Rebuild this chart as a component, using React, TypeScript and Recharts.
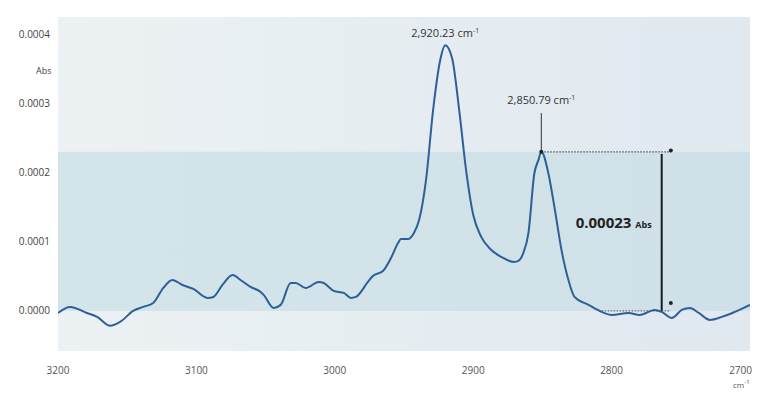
import React from "react";
import {
  LineChart,
  Line,
  XAxis,
  YAxis,
  ReferenceArea,
  ReferenceLine,
  ReferenceDot,
} from "recharts";

// wavenumber (cm-1)
const wavenumbers = [
  3200, 3191.3, 3179, 3171.7, 3162.3, 3155.1, 3145.7, 3138.4, 3131.2, 3123.9,
  3117.4, 3110.1, 3102.2, 3092, 3087.7, 3081.2, 3073.9, 3068.1, 3060.9, 3053.6,
  3051.4, 3044.2, 3039.1, 3031.9, 3028.3, 3021, 3011.6, 3008, 3000.7, 2993.5,
  2988.4, 2984.8, 2976.1, 2972.5, 2965.2, 2959.4, 2954.3, 2952.2, 2947.1, 2942.8,
  2939.1, 2934.1, 2929, 2923.9, 2920.23, 2915.2, 2910.1, 2905.1, 2900, 2894.2,
  2886.9, 2879.7, 2870.3, 2867.4, 2863.8, 2860.1, 2855.8, 2852.9, 2850.79, 2845.7,
  2841.3, 2836.2, 2831.2, 2826.8, 2816.7, 2807.2, 2800, 2787.7, 2779.7, 2768.8,
  2763.8, 2756.5, 2749.3, 2743.5, 2737, 2729, 2720.3, 2710.9, 2700,
];

// absorbance (Abs)
const absorbance = [
  -0.000003, 0.0000058, -0.000003, -0.0000087, -0.0000216, -0.0000159, 0, 0.0000058, 0.0000115, 0.0000332,
  0.0000447, 0.0000375, 0.0000317, 0.0000188, 0.0000202, 0.0000375, 0.0000519, 0.0000447, 0.0000346, 0.0000274,
  0.0000231, 0.0000043, 0.0000087, 0.0000404, 0.0000404, 0.0000332, 0.0000418, 0.0000404, 0.0000289, 0.000026,
  0.0000188, 0.0000202, 0.0000418, 0.0000505, 0.0000577, 0.0000765, 0.0000981, 0.0001039, 0.0001039, 0.0001126,
  0.0001313, 0.000189, 0.00029, 0.000362, 0.000384, 0.000365, 0.00029, 0.000203, 0.000139, 0.000107,
  0.000088, 0.000078, 0.0000707, 0.0000722, 0.0000837, 0.0001126, 0.000199, 0.000218, 0.00023, 0.000199,
  0.00015, 0.000088, 0.0000447, 0.0000202, 0.0000087, -0.0000014, -0.0000058, -0.000003, -0.0000058, 0.0000014,
  -0.0000014, -0.0000101, 0.0000014, 0.0000043, -0.000003, -0.000013, -0.0000087, -0.0000014, 0.0000087,
];

const xTicks = [3200, 3100, 3000, 2900, 2800, 2700];
const yTicks = [0, 0.0001, 0.0002, 0.0003, 0.0004];

// annotations
const peak1 = { wn: 2920.23, abs: 0.000384, label: "2,920.23" };
const peak2 = { wn: 2850.79, abs: 0.00023, label: "2,850.79" };
const bandTop = 0.00023;
const measureX = 2763.8;
const measureEndX = 2757.2;
const baselineStartX = 2807.2;
const peak2LabelTop = 0.000286;

const data = wavenumbers.map((wn, i) => ({ wn, abs: absorbance[i] }));

const FONT = "'Open Sans', 'Noto Sans', sans-serif";

const XTick = (props: any) => {
  const { x, y, payload } = props;
  const last = payload.value === 2700;
  return (
    <text
      x={last ? x + 2 : x}
      y={y + 15}
      textAnchor={last ? "end" : "middle"}
      fontSize={10}
      fontFamily={FONT}
      fill="#555"
    >
      {payload.value}
    </text>
  );
};

const YTick = (props: any) => {
  const { x, y, payload } = props;
  return (
    <text x={x} y={y} dy={3.5} textAnchor="end" fontSize={10} fontFamily={FONT} fill="#444">
      {Number(payload.value).toFixed(4)}
    </text>
  );
};

const PeakLabel = (text: string, dy: number) => (p: any) => {
  const vb = p.viewBox || {};
  const cx = vb.x + (vb.width || 0) / 2;
  const cy = vb.y + (vb.height || 0) / 2;
  return (
    <text x={cx} y={cy + dy} textAnchor="middle" fontSize={11} fontFamily={FONT} fill="#333">
      {text} cm
      <tspan fontSize={7} dy={-4}>-1</tspan>
    </text>
  );
};

const MeasureLabel = (p: any) => {
  const vb = p.viewBox || {};
  const x = vb.x - 10;
  const y = vb.y + (vb.height || 0) / 2 - 4;
  return (
    <text x={x} y={y} textAnchor="end" fontFamily={FONT} fill="#222" fontWeight={700}>
      <tspan fontSize={15}>0.00023 </tspan>
      <tspan fontSize={9}>Abs</tspan>
    </text>
  );
};

export default function App() {
  return (
    <div style={{ position: "absolute", left: 0, top: 0, width: 769, height: 407, background: "#fff" }}>
      <LineChart
        width={769}
        height={407}
        data={data}
        margin={{ top: 17, right: 19, left: 0, bottom: 0 }}
      >
        <defs>
          <linearGradient id="bgOuter" x1="0" y1="0" x2="1" y2="0">
            <stop offset="0%" stopColor="#ecf2f3" />
            <stop offset="100%" stopColor="#e0e8f0" />
          </linearGradient>
          <linearGradient id="bgBand" x1="0" y1="0" x2="1" y2="0">
            <stop offset="0%" stopColor="#d4e5ea" />
            <stop offset="100%" stopColor="#cfe0e8" />
          </linearGradient>
        </defs>
        <XAxis
          dataKey="wn"
          type="number"
          domain={[2700, 3200]}
          reversed
          ticks={xTicks}
          axisLine={false}
          tickLine={false}
          tick={<XTick />}
          height={56}
          allowDataOverflow
        />
        <YAxis
          type="number"
          domain={[-0.000058, 0.000425]}
          ticks={yTicks}
          axisLine={false}
          tickLine={false}
          tick={<YTick />}
          width={58}
          allowDataOverflow
        />
        <ReferenceArea y1={-0.000058} y2={0.000425} fill="url(#bgOuter)" fillOpacity={1} stroke="none" />
        <ReferenceArea y1={0} y2={bandTop} fill="url(#bgBand)" fillOpacity={1} stroke="none" />

        {/* measurement guides */}
        <ReferenceLine
          segment={[{ x: peak2.wn, y: bandTop }, { x: measureEndX, y: bandTop }]}
          stroke="#555"
          strokeWidth={1.2}
          strokeDasharray="1.5 1.5"
        />
        <ReferenceLine
          segment={[{ x: baselineStartX, y: 0 }, { x: measureEndX, y: 0 }]}
          stroke="#666"
          strokeWidth={1.2}
          strokeDasharray="1.5 1.5"
        />
        <ReferenceLine
          segment={[{ x: measureX, y: bandTop - 0.000003 }, { x: measureX, y: 0 }]}
          stroke="#1a1a1a"
          strokeWidth={2}
          label={<MeasureLabel />}
        />
        <ReferenceLine
          segment={[{ x: peak2.wn, y: peak2LabelTop }, { x: peak2.wn, y: bandTop }]}
          stroke="#333"
          strokeWidth={1}
        />

        <Line
          type="monotone"
          dataKey="abs"
          stroke="#2d5f98"
          strokeWidth={2}
          dot={false}
          isAnimationActive={false}
        />

        <ReferenceDot x={peak2.wn} y={bandTop} r={2} fill="#222" stroke="none" />
        <ReferenceDot x={measureEndX} y={0.000232} r={2} fill="#222" stroke="none" />
        <ReferenceDot x={measureEndX} y={0.0000115} r={2} fill="#222" stroke="none" />
        <ReferenceDot
          x={peak1.wn}
          y={peak1.abs}
          r={0}
          fill="none"
          stroke="none"
          label={PeakLabel(peak1.label, -8)}
        />
        <ReferenceDot
          x={peak2.wn}
          y={peak2LabelTop}
          r={0}
          fill="none"
          stroke="none"
          label={PeakLabel(peak2.label, -9)}
        />
      </LineChart>
      <div style={{ position: "absolute", left: 36, top: 64, fontFamily: FONT, fontSize: 9, color: "#444" }}>
        Abs
      </div>
      <div style={{ position: "absolute", left: 733, top: 378, fontFamily: FONT, fontSize: 8, color: "#555" }}>
        cm<sup style={{ fontSize: 6 }}>-1</sup>
      </div>
    </div>
  );
}
